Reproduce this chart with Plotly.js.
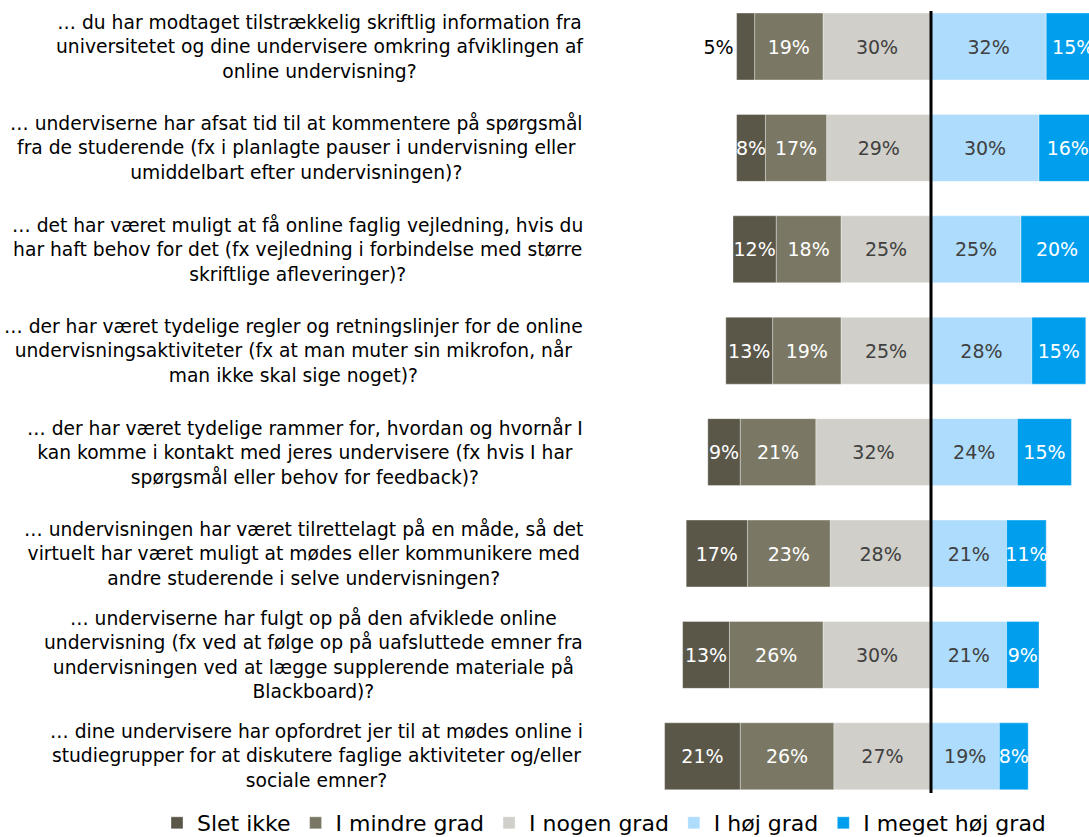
<!DOCTYPE html>
<html>
<head>
<meta charset="utf-8">
<script src="https://cdn.plot.ly/plotly-3.0.1.min.js"></script>
<style>html,body{margin:0;padding:0;background:#fff;}#chart{width:1089px;height:837px;}</style>
</head>
<body>
<div id="chart"></div>
<script>
// ---- data ----
const categories = [
  "… du har modtaget tilstrækkelig skriftlig information fra<br>universitetet og dine undervisere omkring afviklingen af<br>online undervisning?",
  "… underviserne har afsat tid til at kommentere på spørgsmål<br>fra de studerende (fx i planlagte pauser i undervisning eller<br>umiddelbart efter undervisningen)?",
  "… det har været muligt at få online faglig vejledning, hvis du<br>har haft behov for det (fx vejledning i forbindelse med større<br>skriftlige afleveringer)?",
  "… der har været tydelige regler og retningslinjer for de online<br>undervisningsaktiviteter (fx at man muter sin mikrofon, når<br>man ikke skal sige noget)?",
  "… der har været tydelige rammer for, hvordan og hvornår I<br>kan komme i kontakt med jeres undervisere (fx hvis I har<br>spørgsmål eller behov for feedback)?",
  "… undervisningen har været tilrettelagt på en måde, så det<br>virtuelt har været muligt at mødes eller kommunikere med<br>andre studerende i selve undervisningen?",
  "… underviserne har fulgt op på den afviklede online<br>undervisning (fx ved at følge op på uafsluttede emner fra<br>undervisningen ved at lægge supplerende materiale på<br>Blackboard)?",
  "… dine undervisere har opfordret jer til at mødes online i<br>studiegrupper for at diskutere faglige aktiviteter og/eller<br>sociale emner?"
];
const sletIkke       = [5, 8, 12, 13, 9, 17, 13, 21];
const iMindreGrad    = [19, 17, 18, 19, 21, 23, 26, 26];
const iNogenGrad     = [30, 29, 25, 25, 32, 28, 30, 27];
const iHoejGrad      = [32, 30, 25, 28, 24, 21, 21, 19];
const iMegetHoejGrad = [15, 16, 20, 15, 15, 11, 9, 8];
const seriesNames = ["Slet ikke", "I mindre grad", "I nogen grad", "I høj grad", "I meget høj grad"];

// ---- styling ----
const colors = {
  slet: "#5a5749", mindre: "#7a7864", nogen: "#d0cfc9", hoej: "#addcfd", meget: "#009fee"
};
const FONT = "DejaVu Sans, Verdana, sans-serif";
const idx = categories.map((_, i) => i);
const pct = v => v.map(x => x + "%");
const neg = v => v.map(x => -x);
const segLine = {color: "rgba(255,255,255,0.35)", width: 1};

function barTrace(name, vals, sign, color, rank, txtColor, extra) {
  return Object.assign({
    type: "bar", orientation: "h", name: name,
    x: sign < 0 ? neg(vals) : vals, y: idx,
    text: pct(vals), textposition: "inside", insidetextanchor: "middle",
    textangle: 0, constraintext: "none",
    insidetextfont: {family: FONT, size: 19, color: txtColor},
    outsidetextfont: {family: FONT, size: 19, color: "#000"},
    marker: {color: color, line: segLine},
    legendrank: rank, hoverinfo: "skip", cliponaxis: true
  }, extra || {});
}

const traces = [
  barTrace(seriesNames[2], iNogenGrad, -1, colors.nogen, 3, "#404040"),
  barTrace(seriesNames[1], iMindreGrad, -1, colors.mindre, 2, "#ffffff"),
  barTrace(seriesNames[0], sletIkke, -1, colors.slet, 1, "#ffffff",
    {textposition: sletIkke.map(v => v < 6 ? "outside" : "inside")}),
  barTrace(seriesNames[3], iHoejGrad, 1, colors.hoej, 4, "#404040"),
  barTrace(seriesNames[4], iMegetHoejGrad, 1, colors.meget, 5, "#ffffff")
];

// ---- geometry ----
const W = 1089, H = 837;
const zeroPx = 931, pxPerPct = 3.6;
const xr = [(0 - zeroPx) / pxPerPct, (W - zeroPx) / pxPerPct];
const rowTop = 46.5, rowStep = 101.4;
const yr = [(H - rowTop) / rowStep, (0 - rowTop) / rowStep];
const labelRightPx = 585;

const annotations = categories.map((c, i) => ({
  text: c, xref: "paper", yref: "y", x: labelRightPx / W, y: i,
  xanchor: "right", yanchor: "middle", align: "center", showarrow: false,
  font: {family: FONT, size: 18.7, color: "#000"}
}));

const layout = {
  width: W, height: H,
  margin: {l: 0, r: 0, t: 0, b: 0, pad: 0, autoexpand: false},
  barmode: "relative", bargap: 0.34,
  paper_bgcolor: "#fff", plot_bgcolor: "#fff",
  xaxis: {range: xr, visible: false, fixedrange: true},
  yaxis: {range: yr, visible: false, fixedrange: true},
  showlegend: true,
  legend: {
    orientation: "h", x: 604 / W, xanchor: "center", y: -7 / H, yanchor: "bottom",
    font: {family: FONT, size: 22, color: "#000"},
    traceorder: "normal", itemwidth: 30, bgcolor: "rgba(0,0,0,0)"
  },
  shapes: [{
    type: "line", xref: "x", yref: "y", x0: 0, x1: 0,
    y0: (11 - rowTop) / rowStep, y1: (793 - rowTop) / rowStep,
    line: {color: "#000", width: 3}, layer: "above"
  }],
  annotations: annotations
};

Plotly.newPlot("chart", traces, layout, {displayModeBar: false, staticPlot: true});
</script>
</body>
</html>
